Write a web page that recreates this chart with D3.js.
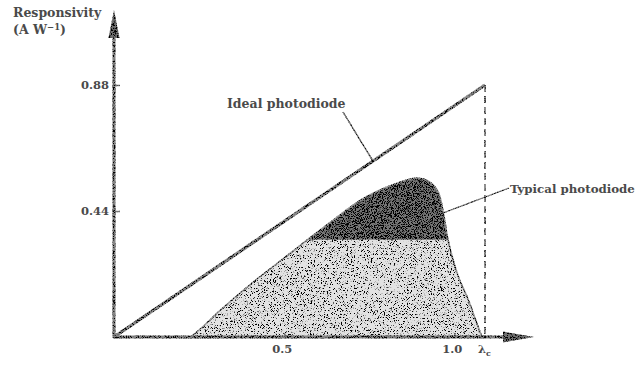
<!DOCTYPE html>
<html>
<head>
<meta charset="utf-8">
<script src="https://cdn.jsdelivr.net/npm/d3@7"></script>
<style>
  html, body { margin: 0; padding: 0; background: #fff; }
  svg { display: block; }
  text { font-family: "DejaVu Serif", "Liberation Serif", serif; font-weight: bold; fill: #4a4a4a; }
</style>
</head>
<body>
<svg id="chart" width="640" height="367"></svg>
<script>
// Wavelength in micrometres, responsivity in A/W
const lambdaCutoff = 1.09;
const idealLine = [[0, 0], [1.09, 0.88]];
const typicalWavelength = [0.226, 0.26, 0.314, 0.402, 0.491, 0.541, 0.637, 0.734, 0.834, 0.893, 0.925, 0.952, 0.969, 0.981, 1.011, 1.040, 1.069, 1.081];
const typicalResponsivity = [0, 0.035, 0.095, 0.185, 0.268, 0.314, 0.402, 0.485, 0.538, 0.555, 0.543, 0.508, 0.425, 0.342, 0.213, 0.133, 0.038, 0];
const shadeLevel = 0.34;
const yTicks = [0.44, 0.88];
const yTickLabels = ["0.44", "0.88"];
const xTicks = [0.5, 1.0];
const xTickLabels = ["0.5", "1.0"];

const svg = d3.select("#chart");
const x = d3.scaleLinear().domain([0, 1.09]).range([114, 485]);
const y = d3.scaleLinear().domain([0, 0.88]).range([337, 85]);

// speckled print texture
const defs = svg.append("defs");
function speckle(id, freq, seed, slope, offset) {
  const f = defs.append("filter").attr("id", id)
    .attr("x", "-5%").attr("y", "-5%").attr("width", "110%").attr("height", "110%");
  f.append("feTurbulence").attr("type", "fractalNoise").attr("baseFrequency", freq)
    .attr("numOctaves", 2).attr("seed", seed).attr("result", "noise");
  f.append("feColorMatrix").attr("in", "noise").attr("type", "matrix")
    .attr("values", `0 0 0 0 0  0 0 0 0 0  0 0 0 0 0  ${-slope} 0 0 0 ${offset}`).attr("result", "specks");
  f.append("feComposite").attr("in", "specks").attr("in2", "SourceGraphic")
    .attr("operator", "in").attr("result", "sp");
  const m = f.append("feMerge");
  m.append("feMergeNode").attr("in", "SourceGraphic");
  m.append("feMergeNode").attr("in", "sp");
}
speckle("grain", 1.1, 5, 9, 4.9);
speckle("lightGrain", 1.3, 11, 10, 4.3);
speckle("lineGrain", 1.2, 3, 8, 4.2);

// clip regions split at the shade level
defs.append("clipPath").attr("id", "below")
  .append("rect").attr("x", 0).attr("y", y(shadeLevel)).attr("width", 640).attr("height", 367);
defs.append("clipPath").attr("id", "above")
  .append("rect").attr("x", 0).attr("y", 0).attr("width", 640).attr("height", y(shadeLevel));

const typical = typicalWavelength.map((w, i) => [w, typicalResponsivity[i]]);
const curve = d3.curveCatmullRom.alpha(0.5);
const area = d3.area()
  .x(d => x(d[0])).y0(y(0)).y1(d => y(d[1]))
  .curve(curve);

svg.append("path").datum(typical)
  .attr("d", area).attr("fill", "#e2e2e2")
  .attr("clip-path", "url(#below)").attr("filter", "url(#lightGrain)");
svg.append("path").datum(typical)
  .attr("d", area).attr("fill", "#777")
  .attr("clip-path", "url(#above)").attr("filter", "url(#grain)");

const strokes = svg.append("g").attr("filter", "url(#lineGrain)");

// outline of typical curve
strokes.append("path").datum(typical)
  .attr("d", d3.line().x(d => x(d[0])).y(d => y(d[1])).curve(curve))
  .attr("fill", "none").attr("stroke", "#999").attr("stroke-width", 1.5);

// ideal photodiode line
strokes.append("path").datum(idealLine)
  .attr("d", d3.line().x(d => x(d[0])).y(d => y(d[1])))
  .attr("fill", "none").attr("stroke", "#888").attr("stroke-width", 3.2);

// cutoff wavelength
strokes.append("line")
  .attr("x1", x(lambdaCutoff)).attr("x2", x(lambdaCutoff))
  .attr("y1", y(0.88)).attr("y2", y(0))
  .attr("stroke", "#777").attr("stroke-width", 1.6).attr("stroke-dasharray", "7,4");

// axes
const yAxis = d3.axisRight(y).tickValues(yTicks).tickSize(6).tickFormat(() => "");
const yg = strokes.append("g").attr("transform", `translate(${x(0)},0)`).call(yAxis);
yg.select(".domain").remove();
yg.selectAll("line").attr("stroke", "#777").attr("stroke-width", 1.4);

const xAxis = d3.axisTop(x).tickValues(xTicks).tickSize(4).tickFormat(() => "");
const xg = strokes.append("g").attr("transform", `translate(0,${y(0)})`).call(xAxis);
xg.select(".domain").remove();
xg.selectAll("line").attr("stroke", "#777").attr("stroke-width", 1.2);

strokes.append("line").attr("x1", x(0)).attr("x2", x(0)).attr("y1", y(0) + 1).attr("y2", 30)
  .attr("stroke", "#858585").attr("stroke-width", 3);
strokes.append("path")
  .attr("d", `M${x(0)},10 L${x(0) - 5.5},38 L${x(0) + 5.5},38 Z`).attr("fill", "#707070");
strokes.append("line").attr("x1", x(0) - 1).attr("x2", 510).attr("y1", y(0)).attr("y2", y(0))
  .attr("stroke", "#858585").attr("stroke-width", 3);
strokes.append("path")
  .attr("d", `M534,${y(0)} L503,${y(0) - 5.5} L503,${y(0) + 5.5} Z`).attr("fill", "#707070");

// leader lines
strokes.append("line").attr("x1", 343).attr("y1", 112).attr("x2", 373).attr("y2", y(0.88 * x.invert(373) / 1.09))
  .attr("stroke", "#777").attr("stroke-width", 1.3);
strokes.append("line").attr("x1", 509).attr("y1", 188).attr("x2", 443).attr("y2", 213)
  .attr("stroke", "#777").attr("stroke-width", 1.3);

// tick labels
const tl = svg.append("g").attr("font-size", 11.5);
yTicks.forEach((v, i) => {
  tl.append("text").attr("x", x(0) - 5).attr("y", y(v) + 4)
    .attr("text-anchor", "end").text(yTickLabels[i]);
});
xTicks.forEach((v, i) => {
  tl.append("text").attr("x", x(v) - 2).attr("y", 353)
    .attr("text-anchor", "middle").text(xTickLabels[i]);
});
const lc = tl.append("text").attr("x", 478).attr("y", 353);
lc.append("tspan").text("λ");
lc.append("tspan").attr("font-size", 8).attr("dy", 3).text("c");

// titles and annotations
const ann = svg.append("g").attr("font-size", 12.5);
ann.append("text").attr("x", 13).attr("y", 17).text("Responsivity");
const unit = ann.append("text").attr("x", 13).attr("y", 34);
unit.append("tspan").text("(A W");
unit.append("tspan").attr("font-size", 8.5).attr("dy", -4).text("−1");
unit.append("tspan").attr("dy", 4).text(")");
ann.append("text").attr("x", 227).attr("y", 108).text("Ideal photodiode");
ann.append("text").attr("x", 510).attr("y", 193).attr("font-size", 11.8).text("Typical photodiode");
</script>
</body>
</html>
